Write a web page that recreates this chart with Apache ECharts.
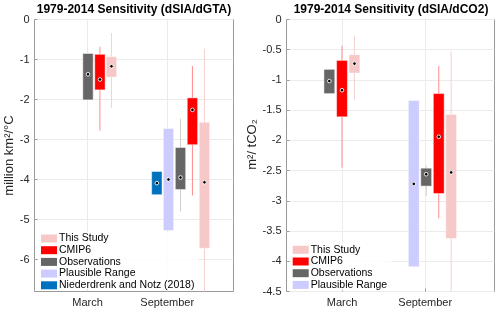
<!DOCTYPE html>
<html><head><meta charset="utf-8">
<script src="https://cdn.jsdelivr.net/npm/echarts@6/dist/echarts.min.js"></script>
<style>html,body{margin:0;padding:0;background:#fff}#c{width:500px;height:313px}</style>
</head><body><div id="c"></div>
<script>
// ---- data ----
const months = ['March', 'September'];
const monthPos = [1, 2];
const gtaTicks = [0, -1, -2, -3, -4, -5, -6];
const co2Ticks = [0, -0.5, -1, -1.5, -2, -2.5, -3, -3.5, -4, -4.5];
const names = ['This Study', 'CMIP6', 'Observations', 'Plausible Range', 'Niederdrenk and Notz (2018)'];

// each row: [x position, whisker low, box low, box high, whisker high, median]
const gtaThisStudy = [[1.300, -2.21, -1.44, -0.93, -0.34, -1.17], [2.468, -6.8, -5.72, -2.57, -0.73, -4.07]];
const gtaCMIP6 = [[1.155, -2.78, -1.76, -0.87, -0.68, -1.50], [2.317, -4.40, -3.13, -1.96, -1.16, -2.26]];
const gtaObs = [[1.005, '-', -2.01, -0.85, '-', -1.37], [2.167, -4.80, -4.25, -3.20, -2.48, -3.95]];
const gtaPlausible = [[2.016, '-', -5.275, -2.725, '-', -4.00]];
const gtaNN2018 = [[1.870, '-', -4.38, -3.80, '-', -4.09]];

const co2ThisStudy = [[1.150, -1.325, -0.886, -0.583, -0.264, -0.73], [2.312, -4.5, -3.625, -1.57, -0.53, -2.53]];
const co2CMIP6 = [[1.000, -2.45, -1.61, -0.677, -0.434, -1.17], [2.163, -3.29, -2.88, -1.226, -0.77, -1.94]];
const co2Obs = [[0.848, '-', -1.226, -0.825, '-', -1.018], [2.012, -2.92, -2.756, -2.46, -2.42, -2.56]];
const co2Plausible = [[1.863, '-', -4.09, -1.34, '-', -2.72]];

// ---- styles ----
const styles = {
  'This Study': {fill: '#f6c8c8', whisker: '#f8d0d0'},
  'CMIP6': {fill: '#ff0000', whisker: '#ff8c8c'},
  'Observations': {fill: '#666666', whisker: '#cfcfcf'},
  'Plausible Range': {fill: '#ccccff', whisker: '#ddddff'},
  'Niederdrenk and Notz (2018)': {fill: '#0072bd', whisker: '#80b8de'}
};
const BOX_W = 0.13;
const FONT = "'Liberation Sans', Arial, Helvetica, sans-serif";

function makeRender(name) {
  const st = styles[name];
  return function (params, api) {
    const x = api.value(0);
    const wl = api.value(1), bl = api.value(2), bh = api.value(3), wh = api.value(4), med = api.value(5);
    const children = [];
    if (!isNaN(wl) && !isNaN(wh)) {
      const a = api.coord([x, wh]), b = api.coord([x, wl]);
      children.push({type: 'line', shape: {x1: a[0], y1: a[1], x2: b[0], y2: b[1]},
        style: {stroke: st.whisker, lineWidth: 1}});
    }
    const p1 = api.coord([x - BOX_W / 2, bh]), p2 = api.coord([x + BOX_W / 2, bl]);
    children.push({type: 'rect', shape: {x: p1[0], y: p1[1], width: p2[0] - p1[0], height: p2[1] - p1[1]},
      style: {fill: st.fill, stroke: 'rgba(255,255,255,0.45)', lineWidth: 1}});
    const m = api.coord([x, med]);
    children.push({type: 'circle', shape: {cx: m[0], cy: m[1], r: 1.8},
      style: {fill: '#000', stroke: '#fff', lineWidth: 0.9}});
    return {type: 'group', children};
  };
}

function mk(name, data, idx) {
  return {
    type: 'custom', name: name, xAxisIndex: idx, yAxisIndex: idx,
    itemStyle: {color: styles[name].fill},
    renderItem: makeRender(name), data: data, clip: false,
    encode: {x: 0, y: [2, 3]}
  };
}

const axisText = {fontFamily: FONT, fontSize: 11, color: '#262626'};
function xAx(idx) {
  return {
    type: 'value', gridIndex: idx, min: 0.333, max: 2.833,
    axisLine: {show: false, onZero: false},
    axisTick: {show: true, inside: true, length: 3, customValues: monthPos, lineStyle: {color: '#999'}},
    axisLabel: Object.assign({customValues: monthPos, margin: 6,
      formatter: v => months[monthPos.indexOf(v)] || ''}, axisText),
    splitLine: {show: true, lineStyle: {color: '#ebebeb', width: 1}}
  };
}
function yAx(idx, ticks, min, name, gap, pad) {
  return {
    type: 'value', gridIndex: idx, min: min, max: 0,
    name: name, nameLocation: 'middle', nameGap: gap,
    nameTextStyle: {fontFamily: FONT, fontSize: 13, color: '#262626', padding: pad},
    axisLine: {show: false, onZero: false},
    axisTick: {show: true, inside: true, length: 3, customValues: ticks, lineStyle: {color: '#999'}},
    axisLabel: Object.assign({customValues: ticks, margin: 5}, axisText),
    splitLine: {show: true, lineStyle: {color: '#ebebeb', width: 1}}
  };
}

const legendCommon = {
  orient: 'vertical', icon: 'rect', itemWidth: 16, itemHeight: 8, itemGap: 0.7,
  backgroundColor: 'rgba(255,255,255,0.85)', padding: [1, 4, 0, 2], selectedMode: false,
  textStyle: {fontFamily: FONT, fontSize: 10.5, color: '#000', lineHeight: 10, height: 10, padding: [0, 0, 0, -3]}
};

const chart = echarts.init(document.getElementById('c'), null, {renderer: 'canvas'});
chart.setOption({
  animation: false,
  backgroundColor: '#fff',
  title: [
    {text: '1979-2014 Sensitivity (dSIA/dGTA)', left: 134, top: 4, textAlign: 'center', padding: 0,
      textStyle: {fontFamily: FONT, fontSize: 12, fontWeight: 'bold', color: '#000'}},
    {text: '1979-2014 Sensitivity (dSIA/dCO2)', left: 391, top: 4, textAlign: 'center', padding: 0,
      textStyle: {fontFamily: FONT, fontSize: 12, fontWeight: 'bold', color: '#000'}}
  ],
  grid: [
    {left: 34.5, width: 199, top: 19.5, height: 272, show: true, borderColor: '#9a9a9a', borderWidth: 1, backgroundColor: 'transparent'},
    {left: 286.5, width: 208, top: 19.5, height: 272, show: true, borderColor: '#9a9a9a', borderWidth: 1, backgroundColor: 'transparent'}
  ],
  xAxis: [xAx(0), xAx(1)],
  yAxis: [yAx(0, gtaTicks, -6.8, 'million km²/°C', 11, [0, 0, 0, 0]), yAx(1, co2Ticks, -4.5, 'm²/ tCO₂', 15, [0, 0, 0, 22])],
  legend: [
    Object.assign({left: 39, top: 232, data: names}, legendCommon),
    Object.assign({left: 290.7, top: 243.3, data: names.slice(0, 4)}, legendCommon)
  ],
  series: [
    mk('This Study', gtaThisStudy, 0), mk('CMIP6', gtaCMIP6, 0), mk('Observations', gtaObs, 0),
    mk('Plausible Range', gtaPlausible, 0), mk('Niederdrenk and Notz (2018)', gtaNN2018, 0),
    mk('This Study', co2ThisStudy, 1), mk('CMIP6', co2CMIP6, 1), mk('Observations', co2Obs, 1),
    mk('Plausible Range', co2Plausible, 1)
  ]
});
</script></body></html>
